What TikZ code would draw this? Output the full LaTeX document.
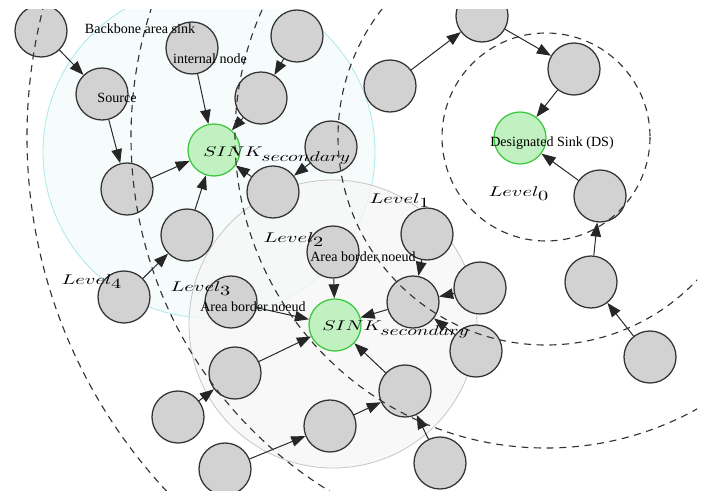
\documentclass[tikz,border=0pt]{standalone}
\usepackage{graphicx}
\usepackage{fontspec}
\setmainfont{Liberation Serif}
\usetikzlibrary{arrows.meta}
\definecolor{sinkfill}{RGB}{193,240,193}
\definecolor{sinkline}{RGB}{60,200,60}
\definecolor{bbfill}{RGB}{246,252,252}
\definecolor{bbline}{RGB}{175,232,232}
\definecolor{abfill}{RGB}{246,246,246}
\definecolor{abline}{RGB}{200,200,200}
\newcommand{\lvltxt}[1]{\scalebox{1.45}[1]{$Level_{\textstyle #1}$}}
\newcommand{\sinktxt}{\scalebox{1.4}[1]{$SINK_{\textstyle secondary}$}}

\begin{document}
\begin{tikzpicture}[x=0.025cm,y=-0.025cm,
    sensor/.style={circle, draw=black!80, line width=0.9pt, fill=gray!35, minimum size=1.3cm, inner sep=0pt},
    sink/.style={sensor, draw=sinkline, fill=sinkfill},
    link/.style={-{Triangle[length=10pt,width=7.5pt]}, line width=0.7pt, draw=black!85},
    level/.style={draw=black!80, line width=0.8pt, dash pattern=on 5pt off 4pt},
    txt/.style={inner sep=0pt}]
    \useasboundingbox (0,0) rectangle (708,492);
    \clip (0,10) rectangle (697,490);

    % areas
    \draw[bbline, fill=bbfill, line width=0.6pt] (209,152) circle (166);
    \draw[abline, fill=abfill, fill opacity=0.8, line width=0.6pt] (333,324) circle (144);

    % sinks
    \node[sink] (sinka) at (214,150) {};
    \node[sink] (sinkb) at (335,325) {};
    \node[sink] (ds) at (520,138) {};

    % sensors
    \node[sensor] (n1) at (41,31) {};
    \node[sensor] (src) at (102,94) {};
    \node[sensor] (intn) at (192,48) {};
    \node[sensor] (n2) at (297,36) {};
    \node[sensor] (n3) at (261,98) {};
    \node[sensor] (n4) at (331,147) {};
    \node[sensor] (n5) at (273,192) {};
    \node[sensor] (n6) at (127,189) {};
    \node[sensor] (n7) at (187,235) {};
    \node[sensor] (n8) at (124,297) {};
    \node[sensor] (n9) at (390,86) {};
    \node[sensor] (n10) at (482,16) {};
    \node[sensor] (n11) at (574,69) {};
    \node[sensor] (n12) at (600,196) {};
    \node[sensor] (n13) at (591,282) {};
    \node[sensor] (n14) at (650,357) {};
    \node[sensor] (n15) at (427,234) {};
    \node[sensor] (abn1) at (333,252) {};
    \node[sensor] (abn2) at (231,302) {};
    \node[sensor] (n16) at (413,302) {};
    \node[sensor] (n17) at (480,288) {};
    \node[sensor] (n18) at (476,351) {};
    \node[sensor] (n19) at (235,373) {};
    \node[sensor] (n20) at (178,417) {};
    \node[sensor] (n21) at (225,469) {};
    \node[sensor] (n22) at (330,426) {};
    \node[sensor] (n23) at (405,391) {};
    \node[sensor] (n24) at (440,463) {};

    % links
    \draw[link] (n1) -- (src);
    \draw[link] (src) -- (n6);
    \draw[link] (intn) -- (sinka);
    \draw[link] (n2) -- (n3);
    \draw[link] (n3) -- (sinka);
    \draw[link] (n4) -- (n5);
    \draw[link] (n5) -- (sinka);
    \draw[link] (n6) -- (sinka);
    \draw[link] (n7) -- (sinka);
    \draw[link] (n8) -- (n7);
    \draw[link] (n9) -- (n10);
    \draw[link] (n10) -- (n11);
    \draw[link] (n11) -- (ds);
    \draw[link] (n12) -- (ds);
    \draw[link] (n13) -- (n12);
    \draw[link] (n14) -- (n13);
    \draw[link] (abn1) -- (sinkb);
    \draw[link] (abn2) -- (sinkb);
    \draw[link] (n15) -- (n16);
    \draw[link] (n17) -- (n16);
    \draw[link] (n18) -- (n16);
    \draw[link] (n16) -- (sinkb);
    \draw[link] (n19) -- (sinkb);
    \draw[link] (n20) -- (n19);
    \draw[link] (n21) -- (n22);
    \draw[link] (n22) -- (n23);
    \draw[link] (n23) -- (sinkb);
    \draw[link] (n24) -- (n23);

    % levels
    \coordinate (lvlc) at (546,137);
    \foreach \r in {104,208,311,415,519}
        \draw[level] (lvlc) circle (\r);

    % texts
    \node[txt] (bblbl) at (140,29) {Backbone area sink};
    \node[txt] (intlbl) at (210,59) {internal node};
    \node[txt] (srclbl) at (117,98) {Source};
    \node[txt] (dslbl) at (552,143) {Designated Sink (DS)};
    \node[txt] (ablbl1) at (363,257) {Area border noeud};
    \node[txt] (ablbl2) at (253,307) {Area border noeud};
    \node[txt, anchor=west] (sinklbl1) at (203,156) {\sinktxt};
    \node[txt, anchor=west] (sinklbl2) at (322,330) {\sinktxt};
    \node[txt] (lvl0) at (519,194) {\lvltxt{0}};
    \node[txt] (lvl1) at (400,201) {\lvltxt{1}};
    \node[txt] (lvl2) at (294,240) {\lvltxt{2}};
    \node[txt] (lvl3) at (201,289) {\lvltxt{3}};
    \node[txt] (lvl4) at (92,282) {\lvltxt{4}};
\end{tikzpicture}
\end{document}
